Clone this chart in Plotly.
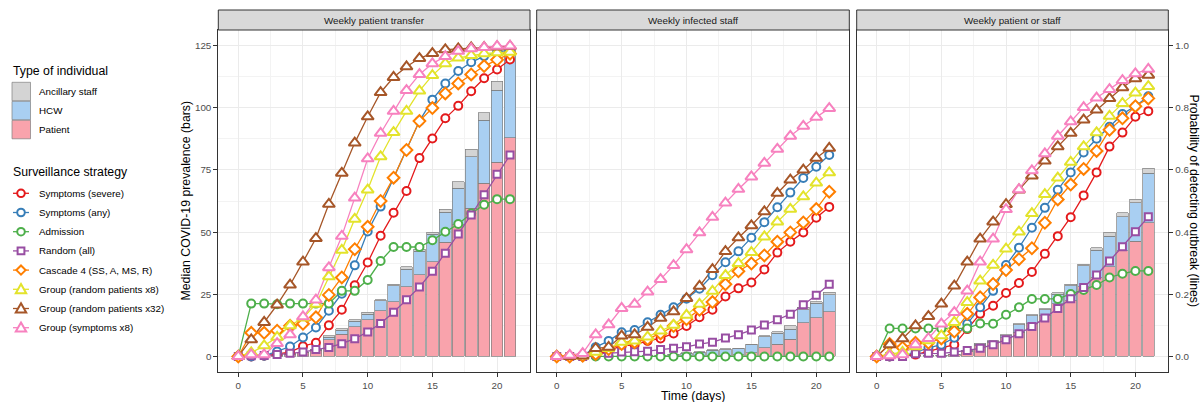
import plotly.graph_objects as go

FONT = "Liberation Sans, Arial, sans-serif"

days = list(range(22))
panels = ["Weekly patient transfer", "Weekly infected staff", "Weekly patient or staff"]
bar_types = ["Patient", "HCW", "Ancillary staff"]
bar_colors = ["#F9A3AC", "#A9CFF2", "#D4D4D4"]
legend_bar_order = ["Ancillary staff", "HCW", "Patient"]
strategies = ["Symptoms (severe)", "Symptoms (any)", "Admission", "Random (all)",
              "Cascade 4 (SS, A, MS, R)", "Group (random patients x8)",
              "Group (random patients x32)", "Group (symptoms x8)"]
line_colors = ["#E41A1C", "#377EB8", "#4DAF4A", "#984EA3", "#FF7F00", "#E3E32B", "#A65628", "#F781BF"]
symbols = ["circle", "circle", "circle", "square", "diamond", "triangle-up", "triangle-up", "triangle-up"]
sizes = [8, 8, 8, 7, 9, 10.5, 10.5, 10.5]
x_ticks = [0, 5, 10, 15, 20]
y_ticks = [0, 25, 50, 75, 100, 125]
p_ticks = [0.0, 0.2, 0.4, 0.6, 0.8, 1.0]

# ---- median prevalence (bars) ----
transfer_patient = [0, 0.1, 0.3, 0.5, 0.9, 1.4, 2.4, 6.8, 9.0, 12.0, 14.7, 18.4, 22.0, 28.0, 32.8, 38.0, 46.0, 53.0, 59.6, 69.7, 78.0, 88.0]
transfer_hcw = [0, 0, 0, 0.1, 0.1, 0.2, 0.3, 1.0, 1.6, 2.1, 2.3, 3.9, 6.4, 7.0, 9.5, 11.2, 12.0, 14.7, 20.7, 25.3, 29.0, 34.0]
transfer_ancillary = [0, 0, 0, 0, 0, 0, 0.1, 0.6, 0.5, 0.6, 0.7, 0.4, 0.7, 1.1, 0.8, 0.8, 1.1, 2.6, 3.0, 2.9, 3.6, 2.0]

staff_patient = [0, 0, 0, 0, 0, 0, 0, 0, 0.1, 0.2, 0.3, 0.3, 0.5, 0.5, 0.7, 1.5, 3.5, 5.0, 7.0, 13.5, 15.5, 18.0]
staff_hcw = [0, 0, 0, 0, 0, 0, 0.1, 0.2, 0.3, 0.5, 0.9, 1.4, 2.0, 2.2, 2.3, 3.2, 4.4, 4.3, 4.0, 5.2, 5.9, 6.9]
staff_ancillary = [0, 0, 0, 0, 0, 0, 0, 0, 0.1, 0.1, 0.2, 0.2, 0.2, 0.3, 0.3, 0.3, 0.4, 0.6, 1.3, 1.0, 0.6, 1.0]

either_patient = [0, 0, 0.1, 0.2, 0.3, 0.5, 0.8, 2.0, 4.5, 5.6, 7.5, 9.7, 13.1, 16.4, 21.1, 22.4, 28.1, 31.7, 36.1, 42.4, 46.4, 53.7]
either_hcw = [0, 0, 0, 0, 0, 0, 0, 0.2, 0.5, 0.5, 0.8, 3.1, 3.2, 2.3, 4.0, 6.0, 8.3, 11.1, 12.3, 13.7, 15.3, 20.0]
either_ancillary = [0, 0, 0, 0, 0, 0, 0, 0.2, 0.3, 0.3, 0.4, 0.3, 0.4, 0.4, 0.6, 0.7, 0.7, 0.9, 1.6, 1.6, 1.6, 2.0]

# ---- probability of detecting outbreak (lines) ----
transfer_severe = [0, 0, 0.002, 0.008, 0.014, 0.033, 0.044, 0.1, 0.15, 0.229, 0.302, 0.388, 0.462, 0.532, 0.638, 0.701, 0.766, 0.806, 0.853, 0.895, 0.923, 0.955]
transfer_any = [0, 0, 0.002, 0.016, 0.032, 0.061, 0.093, 0.147, 0.202, 0.293, 0.402, 0.482, 0.574, 0.664, 0.757, 0.826, 0.878, 0.918, 0.946, 0.966, 0.978, 0.986]
transfer_admission = [0, 0.17, 0.17, 0.168, 0.17, 0.17, 0.17, 0.17, 0.211, 0.211, 0.246, 0.307, 0.352, 0.352, 0.352, 0.374, 0.401, 0.426, 0.46, 0.488, 0.506, 0.506]
transfer_random = [0, 0.002, 0.003, 0.006, 0.01, 0.014, 0.022, 0.029, 0.041, 0.057, 0.079, 0.106, 0.142, 0.182, 0.223, 0.274, 0.332, 0.394, 0.455, 0.52, 0.586, 0.648]
transfer_cascade = [0, 0.076, 0.076, 0.083, 0.099, 0.105, 0.126, 0.198, 0.254, 0.345, 0.417, 0.5, 0.575, 0.664, 0.757, 0.799, 0.846, 0.878, 0.907, 0.934, 0.954, 0.974]
transfer_group8 = [0, 0.012, 0.035, 0.062, 0.099, 0.124, 0.168, 0.257, 0.342, 0.442, 0.536, 0.643, 0.721, 0.789, 0.854, 0.904, 0.942, 0.96, 0.968, 0.974, 0.977, 0.979]
transfer_group32 = [0, 0.054, 0.11, 0.166, 0.23, 0.304, 0.38, 0.49, 0.59, 0.687, 0.771, 0.849, 0.898, 0.932, 0.959, 0.975, 0.987, 0.99, 0.993, 0.994, 0.996, 0.997]
transfer_symptoms8 = [0, 0.006, 0.006, 0.042, 0.07, 0.128, 0.182, 0.286, 0.387, 0.51, 0.636, 0.718, 0.789, 0.856, 0.907, 0.942, 0.965, 0.982, 0.99, 0.994, 0.998, 0.999]

staff_severe = [0, 0, 0, 0.004, 0.018, 0.034, 0.037, 0.05, 0.058, 0.074, 0.098, 0.126, 0.15, 0.193, 0.219, 0.238, 0.28, 0.334, 0.369, 0.399, 0.446, 0.481]
staff_any = [0, 0, 0.002, 0.03, 0.05, 0.078, 0.085, 0.11, 0.134, 0.158, 0.186, 0.218, 0.261, 0.303, 0.338, 0.382, 0.432, 0.48, 0.527, 0.574, 0.61, 0.648]
staff_admission = [0] * 22
staff_random = [0, 0, 0, 0.008, 0.01, 0.014, 0.015, 0.017, 0.022, 0.026, 0.031, 0.04, 0.046, 0.059, 0.07, 0.085, 0.101, 0.118, 0.136, 0.166, 0.197, 0.232]
staff_cascade = [0, 0, 0.002, 0.008, 0.024, 0.04, 0.046, 0.056, 0.074, 0.098, 0.12, 0.15, 0.175, 0.232, 0.274, 0.299, 0.325, 0.369, 0.399, 0.431, 0.474, 0.53]
staff_group8 = [0, 0, 0.002, 0.014, 0.026, 0.046, 0.05, 0.063, 0.082, 0.101, 0.133, 0.168, 0.21, 0.261, 0.299, 0.335, 0.385, 0.433, 0.474, 0.514, 0.558, 0.591]
staff_group32 = [0, 0, 0.002, 0.026, 0.03, 0.066, 0.07, 0.094, 0.123, 0.144, 0.187, 0.226, 0.28, 0.338, 0.382, 0.421, 0.466, 0.525, 0.568, 0.6, 0.638, 0.67]
staff_symptoms8 = [0, 0.004, 0.01, 0.07, 0.102, 0.155, 0.168, 0.208, 0.248, 0.293, 0.344, 0.398, 0.448, 0.494, 0.538, 0.578, 0.622, 0.667, 0.709, 0.741, 0.77, 0.798]

either_severe = [0, 0, 0.002, 0.006, 0.017, 0.028, 0.038, 0.088, 0.137, 0.163, 0.204, 0.236, 0.272, 0.33, 0.387, 0.448, 0.518, 0.592, 0.675, 0.72, 0.771, 0.789]
either_any = [0, 0, 0.002, 0.012, 0.028, 0.038, 0.06, 0.105, 0.158, 0.211, 0.294, 0.35, 0.414, 0.478, 0.536, 0.592, 0.656, 0.7, 0.739, 0.78, 0.805, 0.837]
either_admission = [0, 0.09, 0.09, 0.09, 0.09, 0.09, 0.09, 0.09, 0.106, 0.105, 0.134, 0.158, 0.185, 0.185, 0.185, 0.201, 0.214, 0.23, 0.254, 0.266, 0.275, 0.275]
either_random = [0, 0, 0, 0.009, 0.01, 0.01, 0.014, 0.019, 0.026, 0.038, 0.054, 0.073, 0.096, 0.124, 0.154, 0.186, 0.222, 0.262, 0.307, 0.353, 0.401, 0.449]
either_cascade = [0, 0.04, 0.028, 0.044, 0.044, 0.058, 0.08, 0.137, 0.19, 0.233, 0.278, 0.313, 0.348, 0.43, 0.505, 0.553, 0.603, 0.661, 0.729, 0.766, 0.805, 0.83]
either_group8 = [0, 0.008, 0.014, 0.032, 0.051, 0.067, 0.11, 0.174, 0.243, 0.294, 0.346, 0.401, 0.46, 0.521, 0.574, 0.625, 0.675, 0.72, 0.773, 0.814, 0.848, 0.869]
either_group32 = [0, 0.038, 0.057, 0.099, 0.129, 0.169, 0.227, 0.304, 0.378, 0.433, 0.489, 0.536, 0.581, 0.629, 0.675, 0.718, 0.761, 0.793, 0.83, 0.865, 0.894, 0.905]
either_symptoms8 = [0, 0.003, 0.006, 0.038, 0.058, 0.105, 0.142, 0.211, 0.304, 0.378, 0.473, 0.537, 0.598, 0.652, 0.709, 0.755, 0.801, 0.832, 0.859, 0.888, 0.91, 0.924]

bars_by_panel = [
    [transfer_patient, transfer_hcw, transfer_ancillary],
    [staff_patient, staff_hcw, staff_ancillary],
    [either_patient, either_hcw, either_ancillary],
]
lines_by_panel = [
    [transfer_severe, transfer_any, transfer_admission, transfer_random, transfer_cascade, transfer_group8, transfer_group32, transfer_symptoms8],
    [staff_severe, staff_any, staff_admission, staff_random, staff_cascade, staff_group8, staff_group32, staff_symptoms8],
    [either_severe, either_any, either_admission, either_random, either_cascade, either_group8, either_group32, either_symptoms8],
]

W, H = 1200, 402
panel_px = [(218.3, 530.0), (536.7, 849.3), (856.7, 1168.3)]
top_px, bottom_px = 30.0, 372.0
strip_top_px = 10.0
TICK_FS = 9.8
TITLE_FS = 12.3
BAR_EDGE = "#7F7F7F"

def px(x):
    return x / W

def py(y):
    return 1 - y / H

fig = go.Figure()
layout = dict(
    width=W, height=H, margin=dict(l=0, r=0, t=0, b=0),
    paper_bgcolor="white", plot_bgcolor="white",
    barmode="stack", bargap=0.1, showlegend=False,
    font=dict(family=FONT, color="black"),
    shapes=[], annotations=[],
)

grid_c = "#EBEBEB"
for i, (l, r) in enumerate(panel_px):
    n = i + 1
    xa = "xaxis" if n == 1 else f"xaxis{n}"
    ya = "yaxis" if n == 1 else f"yaxis{n}"
    ya2 = f"yaxis{n + 3}"
    xref = "x" if n == 1 else f"x{n}"
    yref = "y" if n == 1 else f"y{n}"
    y2ref = f"y{n + 3}"
    layout[xa] = dict(
        domain=[px(l), px(r)], anchor=yref, range=[-1.545, 22.545],
        tickmode="array", tickvals=x_ticks, ticks="outside", ticklen=4, tickcolor="#333333",
        tickfont=dict(size=TICK_FS, color="#4D4D4D"), showline=True, mirror=True,
        linecolor="#333333", linewidth=1, showgrid=True, gridcolor=grid_c, gridwidth=1,
        minor=dict(dtick=2.5, tick0=0, showgrid=True, gridcolor="#F3F3F3", gridwidth=0.6),
        zeroline=False, fixedrange=True,
    )
    layout[ya] = dict(
        domain=[py(bottom_px), py(top_px)], anchor=xref, range=[-6.25, 131.25],
        tickmode="array", tickvals=y_ticks,
        ticks="outside" if n == 1 else "", ticklen=4, tickcolor="#333333",
        showticklabels=(n == 1), tickfont=dict(size=TICK_FS, color="#4D4D4D"),
        showline=True, mirror=True, linecolor="#333333", linewidth=1,
        showgrid=True, gridcolor=grid_c, gridwidth=1,
        minor=dict(dtick=12.5, tick0=0, showgrid=True, gridcolor="#F3F3F3", gridwidth=0.6),
        zeroline=False, fixedrange=True,
    )
    layout[ya2] = dict(
        overlaying=yref, anchor=xref, side="right", range=[-0.05, 1.05],
        tickmode="array", tickvals=p_ticks, tickformat=".1f",
        ticks="outside" if n == 3 else "", ticklen=4, tickcolor="#333333",
        showticklabels=(n == 3), tickfont=dict(size=TICK_FS, color="#4D4D4D"),
        showgrid=False, zeroline=False, showline=False, fixedrange=True,
    )
    # facet strip
    layout["shapes"].append(dict(
        type="rect", xref="paper", yref="paper", x0=px(l), x1=px(r),
        y0=py(top_px), y1=py(strip_top_px), fillcolor="#D9D9D9",
        line=dict(color="#333333", width=1), layer="above",
    ))
    layout["annotations"].append(dict(
        text=panels[i], xref="paper", yref="paper", x=(px(l) + px(r)) / 2,
        y=(py(top_px) + py(strip_top_px)) / 2, showarrow=False,
        font=dict(size=TICK_FS, color="#1A1A1A"), xanchor="center", yanchor="middle",
    ))

    # bars
    for k, (name, col) in enumerate(zip(bar_types, bar_colors)):
        fig.add_trace(go.Bar(
            x=days, y=bars_by_panel[i][k], name=name, xaxis=xref, yaxis=yref,
            marker=dict(color=col, line=dict(color=BAR_EDGE, width=0.7)),
            width=0.9, hoverinfo="skip",
        ))

    # lines first (all), then points on top
    for k, name in enumerate(strategies):
        fig.add_trace(go.Scatter(
            x=days, y=lines_by_panel[i][k], mode="lines", xaxis=xref, yaxis=y2ref,
            line=dict(color=line_colors[k], width=1.3), hoverinfo="skip",
        ))
    for k, name in enumerate(strategies):
        fig.add_trace(go.Scatter(
            x=days, y=lines_by_panel[i][k], mode="markers", xaxis=xref, yaxis=y2ref,
            marker=dict(symbol=symbols[k], size=sizes[k], color="white",
                        line=dict(color=line_colors[k], width=2)),
            name=name,
        ))

# ---------------- manual legend (ggplot-style guide) ----------------
LEG_X = 12.0          # left edge of keys / titles (px)
TEXT_X = 37.0         # left edge of labels (px)
KEY = 19.0            # key size (px)

def add_text(txt, x, y, size):
    layout["annotations"].append(dict(
        text=txt, xref="paper", yref="paper", x=px(x), y=py(y), showarrow=False,
        xanchor="left", yanchor="middle", font=dict(size=size, color="black"),
    ))

add_text("Type of individual", LEG_X - 1, 71, TITLE_FS)
bar_key_top = 82.3
for j, name in enumerate(legend_bar_order):
    col = bar_colors[bar_types.index(name)]
    y0 = bar_key_top + j * KEY
    layout["shapes"].append(dict(
        type="rect", xref="paper", yref="paper", x0=px(LEG_X), x1=px(LEG_X + KEY - 0.5),
        y0=py(y0 + KEY - 0.5), y1=py(y0), fillcolor=col, line=dict(color=BAR_EDGE, width=0.7),
    ))
    add_text(name, TEXT_X, y0 + KEY / 2, TICK_FS)

add_text("Surveillance strategy", LEG_X - 1, 171.5, TITLE_FS)
first_item_y = 193.3
step = 19.2
for k, name in enumerate(strategies):
    cy = first_item_y + k * step
    cx = LEG_X + 9
    c = line_colors[k]
    layout["shapes"].append(dict(
        type="line", xref="paper", yref="paper", x0=px(LEG_X + 1), x1=px(LEG_X + 17),
        y0=py(cy), y1=py(cy), line=dict(color=c, width=1.3),
    ))
    sym = symbols[k]
    mk = dict(xref="paper", yref="paper", fillcolor="white", line=dict(color=c, width=2))
    if sym == "circle":
        rr = 3.8
        layout["shapes"].append(dict(type="circle", x0=px(cx - rr), x1=px(cx + rr),
                                     y0=py(cy + rr), y1=py(cy - rr), **mk))
    elif sym == "square":
        rr = 3.4
        layout["shapes"].append(dict(type="rect", x0=px(cx - rr), x1=px(cx + rr),
                                     y0=py(cy + rr), y1=py(cy - rr), **mk))
    elif sym == "diamond":
        rr = 4.6
        path = (f"M {px(cx)} {py(cy - rr)} L {px(cx + rr)} {py(cy)} "
                f"L {px(cx)} {py(cy + rr)} L {px(cx - rr)} {py(cy)} Z")
        layout["shapes"].append(dict(type="path", path=path, **mk))
    else:
        rr = 5.2
        path = (f"M {px(cx)} {py(cy - rr)} L {px(cx + rr)} {py(cy + rr * 0.75)} "
                f"L {px(cx - rr)} {py(cy + rr * 0.75)} Z")
        layout["shapes"].append(dict(type="path", path=path, **mk))
    add_text(name, TEXT_X, cy, TICK_FS)

# axis titles
layout["annotations"] += [
    dict(text="Median COVID-19 prevalence (bars)", xref="paper", yref="paper",
         x=px(185.5), y=(py(top_px) + py(bottom_px)) / 2, textangle=-90, showarrow=False,
         font=dict(size=TITLE_FS, color="black"), xanchor="center", yanchor="middle"),
    dict(text="Probability of detecting outbreak (lines)", xref="paper", yref="paper",
         x=px(1193.5), y=(py(top_px) + py(bottom_px)) / 2, textangle=90, showarrow=False,
         font=dict(size=TITLE_FS, color="black"), xanchor="center", yanchor="middle"),
    dict(text="Time (days)", xref="paper", yref="paper",
         x=(px(panel_px[0][0]) + px(panel_px[2][1])) / 2, y=py(395.5), showarrow=False,
         font=dict(size=TITLE_FS, color="black"), xanchor="center", yanchor="middle"),
]

fig.update_layout(**layout)
fig.write_html("out.html")
